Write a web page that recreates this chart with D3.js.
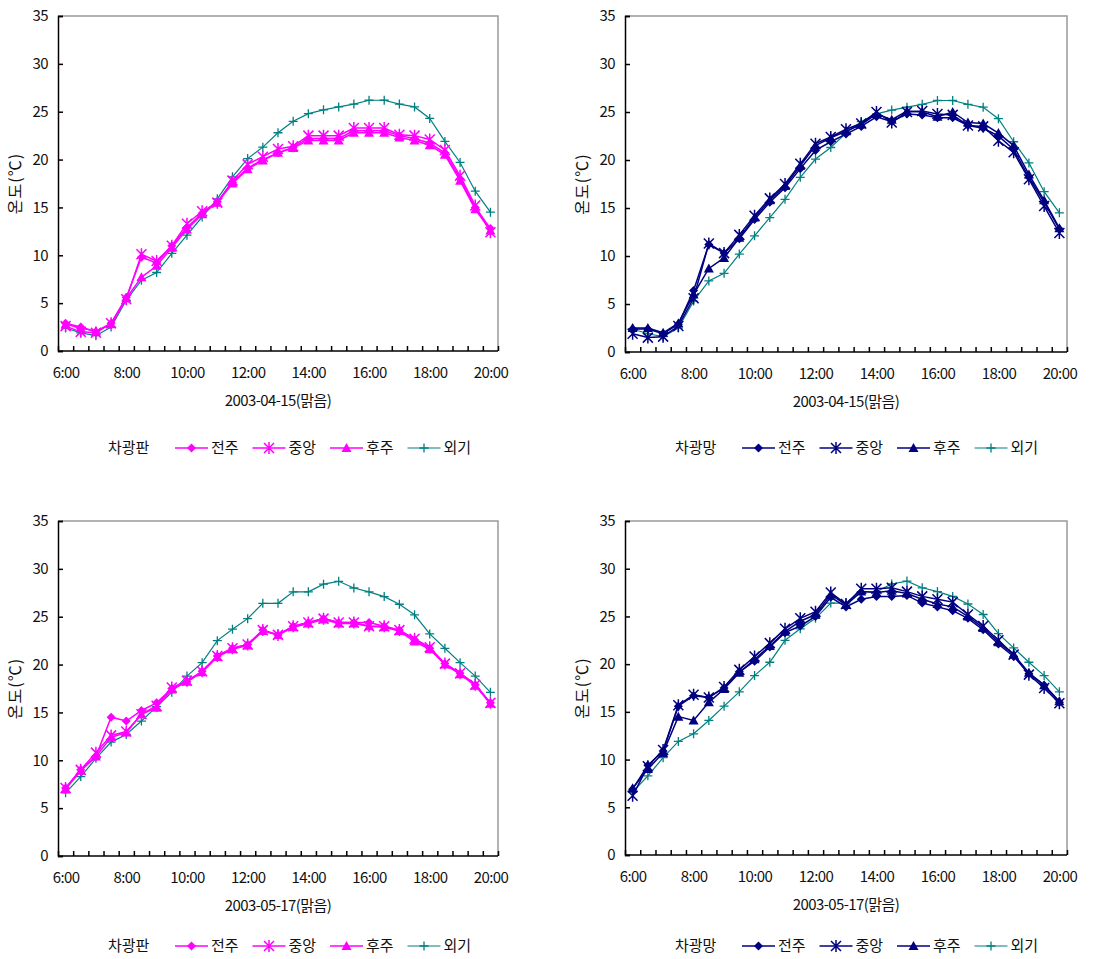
<!DOCTYPE html>
<html>
<head>
<meta charset="utf-8">
<script src="https://cdn.jsdelivr.net/npm/d3@7"></script>
<style>
  body { margin: 0; background: #fff; }
  text { font-family: "Noto Sans CJK KR", "Noto Sans", sans-serif; fill: #111; }
</style>
</head>
<body>
<svg id="chart" width="1118" height="959"></svg>
<script>
// time categories, every 30 minutes
var times = ["6:00","6:30","7:00","7:30","8:00","8:30","9:00","9:30","10:00","10:30","11:00","11:30",
  "12:00","12:30","13:00","13:30","14:00","14:30","15:00","15:30","16:00","16:30","17:00","17:30",
  "18:00","18:30","19:00","19:30","20:00"];
var yTicks = [0, 5, 10, 15, 20, 25, 30, 35];
var seriesNames = ["전주", "중앙", "후주", "외기"];

// 2003-04-15
var outside0415 = [2.4, 1.9, 1.6, 2.5, 5.3, 7.4, 8.2, 10.2, 12.1, 14.0, 15.9, 18.2, 20.1, 21.3, 22.8, 24.0,
  24.8, 25.2, 25.5, 25.8, 26.2, 26.2, 25.8, 25.5, 24.3, 21.9, 19.7, 16.7, 14.5];
var panelFront0415 = [2.9, 2.5, 2.0, 2.9, 5.6, 9.8, 9.2, 11.0, 12.9, 14.4, 15.6, 17.6, 19.1, 20.0, 20.7, 21.3,
  22.2, 22.2, 22.2, 23.0, 23.0, 23.0, 22.5, 22.2, 21.7, 20.7, 18.0, 15.0, 12.8];
var panelMid0415 = [2.6, 2.0, 1.9, 2.9, 5.4, 10.1, 9.4, 11.0, 13.3, 14.6, 15.5, 17.8, 19.5, 20.3, 21.1, 21.4,
  22.5, 22.5, 22.5, 23.3, 23.3, 23.3, 22.6, 22.5, 22.1, 21.0, 18.3, 15.2, 12.4];
var panelRear0415 = [2.8, 2.4, 2.1, 2.8, 5.5, 7.7, 8.9, 10.8, 12.7, 14.3, 15.5, 17.5, 19.0, 19.9, 20.7, 21.2,
  22.0, 22.0, 22.0, 22.8, 22.8, 22.8, 22.3, 22.0, 21.5, 20.5, 17.8, 14.8, 12.6];
var netFront0415 = [2.4, 2.4, 1.9, 2.9, 6.4, 11.2, 10.3, 11.8, 13.8, 15.6, 17.1, 19.1, 21.0, 21.9, 22.7, 23.5,
  24.5, 24.0, 24.8, 24.7, 24.4, 24.4, 23.6, 23.3, 22.5, 21.1, 18.2, 15.6, 12.8];
var netMid0415 = [1.9, 1.5, 1.6, 2.7, 5.6, 11.3, 10.3, 12.2, 14.2, 16.0, 17.5, 19.6, 21.7, 22.4, 23.2, 23.8,
  25.0, 23.9, 25.0, 25.1, 24.8, 24.7, 23.6, 23.5, 22.0, 20.8, 18.0, 15.2, 12.4];
var netRear0415 = [2.5, 2.5, 2.0, 3.0, 6.0, 8.7, 9.8, 11.9, 14.0, 15.8, 17.3, 19.4, 21.5, 22.3, 23.0, 23.7,
  24.8, 24.2, 25.1, 25.0, 24.5, 25.0, 23.9, 23.8, 22.8, 21.5, 18.5, 15.8, 12.9];

// 2003-05-17
var outside0517 = [6.6, 8.3, 10.2, 11.9, 12.7, 14.1, 15.6, 17.1, 18.8, 20.2, 22.5, 23.7, 24.8, 26.4, 26.4, 27.6,
  27.6, 28.4, 28.7, 28.0, 27.6, 27.1, 26.3, 25.2, 23.2, 21.7, 20.2, 18.8, 17.1];
var panelFront0517 = [7.1, 9.0, 10.4, 14.5, 14.1, 15.2, 16.0, 17.5, 18.2, 19.3, 20.9, 21.7, 22.1, 23.6, 23.1, 24.0,
  24.4, 24.8, 24.4, 24.4, 24.4, 24.0, 23.6, 22.6, 21.7, 20.1, 19.1, 17.9, 16.0];
var panelMid0517 = [7.1, 9.0, 10.8, 12.6, 13.0, 14.8, 15.7, 17.6, 18.3, 19.3, 20.9, 21.7, 22.1, 23.6, 23.1, 24.0,
  24.4, 24.8, 24.4, 24.4, 24.0, 24.0, 23.6, 22.7, 21.8, 20.1, 19.1, 17.9, 16.0];
var panelRear0517 = [7.0, 8.9, 10.4, 12.4, 12.9, 14.8, 15.5, 17.4, 18.2, 19.2, 20.8, 21.6, 22.0, 23.5, 23.1, 23.9,
  24.3, 24.7, 24.3, 24.3, 24.0, 23.9, 23.5, 22.4, 21.6, 20.0, 19.0, 17.8, 15.9];
var netFront0517 = [6.9, 9.4, 10.9, 15.6, 16.7, 16.5, 17.5, 19.2, 20.3, 21.8, 23.3, 24.0, 25.0, 27.0, 26.0, 26.8,
  27.1, 27.1, 27.2, 26.4, 26.0, 25.6, 24.8, 23.6, 22.1, 20.8, 19.0, 17.8, 16.0];
var netMid0517 = [6.2, 9.3, 11.0, 15.7, 16.8, 16.5, 17.6, 19.4, 20.8, 22.2, 23.7, 24.8, 25.5, 27.5, 26.3, 27.9,
  27.9, 28.0, 27.6, 27.1, 26.8, 26.5, 25.2, 24.0, 22.5, 21.0, 18.9, 17.5, 15.9];
var netRear0517 = [7.0, 9.0, 10.7, 14.5, 14.1, 16.0, 17.4, 19.1, 20.5, 21.9, 23.4, 24.5, 25.2, 27.3, 26.2, 27.6,
  27.5, 27.7, 27.4, 26.8, 26.3, 26.0, 25.0, 23.8, 22.3, 21.0, 19.1, 17.8, 16.1];

var magenta = "#ff00ff", navy = "#000080", teal = "#008080";

var svg = d3.select("#chart");

// marker shapes
function drawMarker(g, kind, color) {
  if (kind === "diamond") {
    g.append("path").attr("d", "M0,-4.5L4.5,0L0,4.5L-4.5,0Z").attr("fill", color);
  } else if (kind === "star") {
    g.append("path").attr("d", "M-5,-5L5,5M-5,5L5,-5M0,-6L0,6")
      .attr("stroke", color).attr("stroke-width", 1.5).attr("fill", "none");
  } else if (kind === "triangle") {
    g.append("path").attr("d", "M0,-5L5,4L-5,4Z").attr("fill", color);
  } else {
    g.append("path").attr("d", "M-4.5,0L4.5,0M0,-4.5L0,4.5")
      .attr("stroke", color).attr("stroke-width", 1.3).attr("fill", "none");
  }
}

function drawPanel(p) {
  var left = p.left, right = p.right, top = p.top, bottom = p.bottom;

  var x = d3.scalePoint().domain(times).range([left, right]).padding(0.5);
  var xb = d3.scaleLinear().domain([0, times.length]).range([left, right]);
  var y = d3.scaleLinear().domain([0, 35]).range([bottom, top]);

  var g = svg.append("g");

  // frame (top / right)
  g.append("path")
    .attr("d", `M${left},${top}H${right}V${bottom}`)
    .attr("fill", "none").attr("stroke", "#999").attr("stroke-width", 1.5);

  // y axis
  var yAxis = g.append("g")
    .attr("transform", `translate(${left},0)`)
    .call(d3.axisLeft(y).tickValues(yTicks).tickSize(-5).tickPadding(10));
  yAxis.selectAll("text").style("font-size", "15px").style("letter-spacing", "-0.6px");
  yAxis.selectAll("line, path").attr("stroke", "#000").attr("stroke-width", 1.5);

  // x axis: ticks at category boundaries
  var xAxis = g.append("g")
    .attr("transform", `translate(0,${bottom})`)
    .call(d3.axisBottom(xb).tickValues(d3.range(0, times.length + 1)).tickSize(-5).tickFormat(""));
  xAxis.selectAll("line, path").attr("stroke", "#000").attr("stroke-width", 1.5);
  xAxis.select(".domain").attr("d", `M${left},0H${right}`);

  // x labels every 2 hours
  var xLab = g.append("g")
    .attr("transform", `translate(0,${bottom})`)
    .call(d3.axisBottom(x).tickSize(0).tickPadding(16)
      .tickValues(times.filter(function(d, i) { return i % 4 === 0; })));
  xLab.select(".domain").remove();
  xLab.selectAll("text").style("font-size", "15px").style("letter-spacing", "-0.6px");

  // axis titles
  g.append("text")
    .attr("x", (left + right) / 2).attr("y", bottom + 55)
    .attr("text-anchor", "middle")
    .style("font-size", "15px").style("letter-spacing", "-0.6px")
    .text(p.dateLabel);

  g.append("text")
    .attr("transform", `translate(${left - 37},${(top + bottom) / 2}) rotate(-90)`)
    .attr("text-anchor", "middle")
    .style("font-size", "16px").style("letter-spacing", "1px")
    .text("온도(℃)");

  // series
  var series = [
    { name: seriesNames[0], values: p.front, color: p.color, marker: "diamond", width: 1.5 },
    { name: seriesNames[1], values: p.mid, color: p.color, marker: "star", width: 1.5 },
    { name: seriesNames[2], values: p.rear, color: p.color, marker: "triangle", width: 1.5 },
    { name: seriesNames[3], values: p.outside, color: teal, marker: "plus", width: 1.2 }
  ];

  var line = d3.line()
    .x(function(d, i) { return x(times[i]); })
    .y(function(d) { return y(d); });

  series.slice().reverse().forEach(function(s) {
    g.append("path")
      .datum(s.values)
      .attr("d", line)
      .attr("fill", "none")
      .attr("stroke", s.color)
      .attr("stroke-width", s.width);
    s.values.forEach(function(v, i) {
      var m = g.append("g").attr("transform", `translate(${x(times[i])},${y(v)})`);
      drawMarker(m, s.marker, s.color);
    });
  });

  // legend
  var ly = p.legendY;
  g.append("text")
    .attr("x", left + 50).attr("y", ly).attr("dy", "0.35em")
    .style("font-size", "15px")
    .text(p.legendTitle);

  series.forEach(function(s, i) {
    var lx = left + 117 + i * 77.5;
    var lg = g.append("g");
    lg.append("line")
      .attr("x1", lx).attr("x2", lx + 33)
      .attr("y1", ly).attr("y2", ly)
      .attr("stroke", s.color).attr("stroke-width", s.width);
    var m = lg.append("g").attr("transform", `translate(${lx + 16.5},${ly})`);
    drawMarker(m, s.marker, s.color);
    lg.append("text")
      .attr("x", lx + 36).attr("y", ly).attr("dy", "0.35em")
      .style("font-size", "15px")
      .text(s.name);
  });
}

drawPanel({ left: 58, right: 498, top: 16, bottom: 351, legendY: 448, color: magenta,
  dateLabel: "2003-04-15(맑음)", legendTitle: "차광판",
  front: panelFront0415, mid: panelMid0415, rear: panelRear0415, outside: outside0415 });
drawPanel({ left: 625, right: 1067, top: 16, bottom: 352, legendY: 448, color: navy,
  dateLabel: "2003-04-15(맑음)", legendTitle: "차광망",
  front: netFront0415, mid: netMid0415, rear: netRear0415, outside: outside0415 });
drawPanel({ left: 58, right: 498, top: 521, bottom: 856, legendY: 946, color: magenta,
  dateLabel: "2003-05-17(맑음)", legendTitle: "차광판",
  front: panelFront0517, mid: panelMid0517, rear: panelRear0517, outside: outside0517 });
drawPanel({ left: 625, right: 1067, top: 521, bottom: 855, legendY: 946, color: navy,
  dateLabel: "2003-05-17(맑음)", legendTitle: "차광망",
  front: netFront0517, mid: netMid0517, rear: netRear0517, outside: outside0517 });
</script>
</body>
</html>
